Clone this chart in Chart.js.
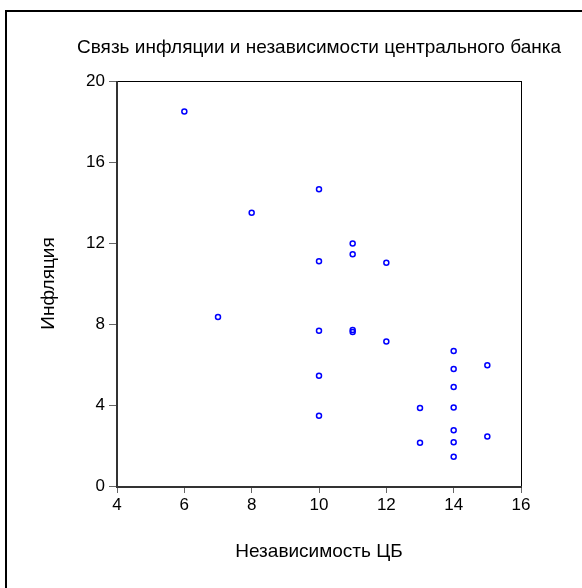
<!DOCTYPE html>
<html><head><meta charset="utf-8">
<script src="https://cdn.jsdelivr.net/npm/chart.js@4"></script>
<style>html,body{margin:0;padding:0;background:#fff}#w{width:582px;height:588px;position:relative}</style>
</head><body><div id="w"><canvas id="c" width="582" height="588"></canvas></div>
<script>
const chartTitle = 'Связь инфляции и независимости центрального банка';
const xTitle = 'Независимость ЦБ';
const yTitle = 'Инфляция';
const independence = [6, 8, 7, 10, 11, 11, 10, 12, 10, 11, 11, 12, 14, 14, 15, 14, 13, 14, 14, 15, 13, 14, 14, 10, 10];
const inflation = [18.5, 13.5, 8.35, 14.65, 11.97, 11.44, 11.1, 11.03, 7.67, 7.7, 7.6, 7.14, 6.67, 5.78, 5.96, 4.89, 3.85, 3.88, 2.75, 2.45, 2.14, 2.16, 1.45, 5.45, 3.47];
const xTicks = [4, 6, 8, 10, 12, 14, 16];
const yTicks = [0, 4, 8, 12, 16, 20];

const FONT = '"Liberation Sans", Arial, sans-serif';
const points = independence.map((x, i) => ({x: x, y: inflation[i]}));

const framePlugin = {
  id: 'frame',
  beforeDraw(chart) {
    const ctx = chart.ctx;
    ctx.save();
    ctx.fillStyle = '#fff';
    ctx.fillRect(0, 0, chart.width, chart.height);
    ctx.fillStyle = '#000';
    ctx.fillRect(5, 10, chart.width - 5, 2);
    ctx.fillRect(5, 10, 2, chart.height - 10);
    ctx.restore();
  },
  beforeDatasetsDraw(chart) {
    const a = chart.chartArea, ctx = chart.ctx;
    ctx.save();
    ctx.strokeStyle = '#000';
    ctx.lineWidth = 1;
    ctx.strokeRect(Math.round(a.left) + 0.5, Math.round(a.top) + 0.5, Math.round(a.right - a.left), Math.round(a.bottom - a.top));
    ctx.strokeStyle = '#333';
    ctx.lineWidth = 2;
    ctx.beginPath();
    ctx.moveTo(Math.round(a.left), Math.round(a.top));
    ctx.lineTo(Math.round(a.left), Math.round(a.bottom) + 1);
    ctx.lineTo(Math.round(a.right) + 1, Math.round(a.bottom) + 1);
    ctx.stroke();
    ctx.restore();
  }
};

new Chart(document.getElementById('c'), {
  type: 'scatter',
  data: {
    datasets: [{
      data: points,
      pointStyle: 'circle',
      pointRadius: 2.5,
      pointHoverRadius: 2.5,
      pointBorderWidth: 1.5,
      pointBorderColor: '#0000ff',
      pointBackgroundColor: 'rgba(255,255,255,0)',
      showLine: false
    }]
  },
  options: {
    responsive: false,
    animation: false,
    devicePixelRatio: 1,
    layout: {padding: {left: 56, right: 0, top: 0, bottom: 0}},
    plugins: {
      legend: {display: false},
      tooltip: {enabled: false},
      title: {
        display: true,
        text: chartTitle,
        fullSize: true,
        color: '#000',
        font: {family: FONT, size: 19, weight: 'normal'},
        padding: {top: 36, bottom: 22.2}
      }
    },
    scales: {
      x: {
        type: 'linear',
        min: 4, max: 16,
        afterBuildTicks: s => { s.ticks = xTicks.map(v => ({value: v})); },
        afterFit: s => { s.height = 102; },
        ticks: {autoSkip: false, color: '#000', padding: 2, font: {family: FONT, size: 17}},
        grid: {display: true, drawOnChartArea: false, drawTicks: true, tickLength: 7, color: '#666', lineWidth: 1},
        border: {display: false},
        title: {display: true, text: xTitle, color: '#000', font: {family: FONT, size: 19}, padding: {top: 0, bottom: 24.6}}
      },
      y: {
        type: 'linear',
        min: 0, max: 20,
        afterBuildTicks: s => { s.ticks = yTicks.map(v => ({value: v})); },
        afterFit: s => { s.width = 61; },
        ticks: {autoSkip: false, color: '#000', padding: 4, font: {family: FONT, size: 17}},
        grid: {display: true, drawOnChartArea: false, drawTicks: true, tickLength: 8, color: '#666', lineWidth: 1},
        border: {display: false},
        title: {display: true, text: yTitle, color: '#000', font: {family: FONT, size: 19}, padding: {top: -19, bottom: 0}}
      },
      yr: {
        type: 'linear',
        position: 'right',
        min: 0, max: 20,
        afterFit: s => { s.width = 61; },
        ticks: {display: false},
        grid: {display: false},
        border: {display: false}
      }
    }
  },
  plugins: [framePlugin]
});
</script>
</body></html>
